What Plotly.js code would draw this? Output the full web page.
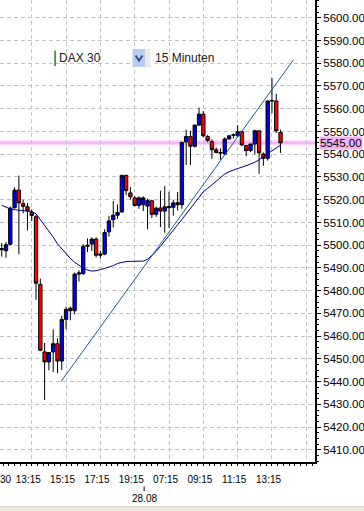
<!DOCTYPE html>
<html><head><meta charset="utf-8">
<script src="https://cdn.plot.ly/plotly-3.0.1.min.js"></script>
<style>html,body{margin:0;padding:0;background:#fff;overflow:hidden}#chart{width:364px;height:511px}</style>
</head><body><div id="chart"></div>
<script>
// ---- data (15-minute bars, DAX 30) ----
const barIndex = [0,1,2,3,4,5,6,7,8,9,10,11,12,13,14,15,16,17,18,19,20,21,22,23,24,25,26,27,28,29,30,31,32,33,34,35,36,37,38,39,40,41,42,43,44,45,46,47,48,49,50,51,52,53,54,55,56,57,58,59,60,61,62,63,64,65];
const openP  = [5498,5497.6,5500.4,5516.5,5524.2,5518.3,5516.9,5514.5,5512.5,5482.8,5453.1,5448.7,5453.1,5456.7,5449.1,5467.4,5472.3,5471.2,5487.3,5487.5,5499.5,5500.5,5502.7,5495.6,5496.1,5505.9,5511.2,5513.2,5514.6,5530.7,5523,5520.8,5517.5,5517.8,5517.2,5519.5,5513.6,5516.4,5515,5516.5,5516.7,5518.7,5517.8,5545.5,5547.8,5543.5,5552.8,5557.6,5547.8,5545.5,5542,5540.5,5540.1,5546.7,5548.4,5548.1,5549.9,5543.8,5541.6,5544.5,5550.3,5540.1,5538.2,5563.4,5563.4,5549.6];
const highP  = [5501,5501.4,5517,5525.5,5530.6,5520,5518.6,5515.7,5513.5,5485.3,5457,5453,5463,5459,5469,5473,5473,5488,5489,5500.5,5503,5503.5,5503.5,5497.5,5507,5512.9,5519.5,5518,5531,5531,5525.5,5521.7,5521.5,5521.5,5520.5,5520,5517,5524,5526,5523.5,5520,5523.4,5545.5,5550.8,5550.3,5553,5560.5,5559,5548.5,5546.6,5543,5542.6,5547.4,5548.5,5549.2,5552.8,5550.3,5544.1,5544.5,5550.8,5550.3,5540.8,5563.6,5573.5,5566.5,5550.8];
const lowP   = [5495,5494.5,5500,5516,5496,5514,5506.5,5510.6,5476,5453.5,5432,5445,5444.2,5443.8,5445.2,5463,5467,5469.6,5484,5487,5497,5497.5,5494.6,5494.2,5495.6,5503.8,5507.8,5511.5,5514.4,5522,5520,5517,5516,5515,5507,5512,5512.5,5508,5505.5,5507.5,5513,5515.3,5516,5535.3,5535.3,5543,5552.5,5547.4,5545.3,5538,5540.4,5537.6,5539.7,5546.5,5546.9,5547.7,5543.5,5539.1,5540.9,5540,5531.4,5535,5537.2,5558,5549.3,5540.6];
const closeP = [5498.5,5500.2,5516.3,5524.2,5518.6,5517.1,5515.1,5513.1,5483.3,5453.8,5448.7,5452.8,5456.7,5449.1,5467.4,5471.8,5471.2,5487.3,5487.8,5499.5,5500,5502.7,5495.6,5496.1,5505.6,5510.7,5513.2,5514.4,5530.7,5524,5521.3,5517.5,5520.8,5520.8,5519.6,5513.6,5516.3,5515,5516.9,5517,5518.6,5517.8,5545.2,5547.8,5543.5,5552.8,5557.6,5548.1,5546,5542,5540.8,5540.7,5546.7,5548.1,5548.5,5549.9,5544.1,5541.6,5544.5,5550.3,5540.6,5538.2,5563.4,5563.6,5550.3,5545];
const maValues = [5517.6,5516.8,5515.9,5515.6,5515.4,5515.2,5515.0,5514.8,5513.8,5511.3,5509.0,5506.5,5503.6,5500.6,5498.5,5496.0,5494.2,5492.5,5491.2,5490.0,5489.1,5488.6,5488.8,5489.2,5489.8,5490.4,5491.0,5492.0,5492.5,5492.8,5492.9,5492.9,5492.9,5493.0,5493.8,5495.5,5497.3,5499.5,5502.0,5504.5,5507.0,5509.0,5511.3,5513.7,5516.2,5518.6,5521.0,5523.5,5525.0,5526.6,5528.1,5529.7,5531.3,5532.3,5533.1,5533.7,5534.3,5534.9,5535.7,5536.5,5537.5,5539.0,5540.2,5541.4,5542.6,5544.0];
const trendX = [13.8, 68];
const trendY = [5440, 5581.5];
const currentPrice = 5545.00;
const timeLabelPos  = [6.2, 14.2, 22.2, 30.2, 38.2, 46.2, 54.2, 62.2];
const timeLabelText = ["13:15","15:15","17:15","19:15","07:15","09:15","11:15","13:15"];
const dayBreakPos = 33.2;
const dayBreakText = "28.08";
const symbolText = "DAX 30";
const periodText = "15 Minuten";

// ---- geometry helpers (pixel -> paper) ----
const PW = 315, PH = 462;
const px = v => v / PW;
const py = v => (PH - v) / PH;
const FONT = "Liberation Sans, Arial, sans-serif";

const candles = {
  type: 'candlestick', x: barIndex, open: openP, high: highP, low: lowP, close: closeP,
  increasing: {line: {color: '#000', width: 1}, fillcolor: '#0000ff'},
  decreasing: {line: {color: '#000', width: 1}, fillcolor: '#ff0000'},
  whiskerwidth: 0, hoverinfo: 'skip'
};
const ma = {type: 'scatter', mode: 'lines', x: barIndex, y: maValues,
  line: {color: '#000080', width: 1}, hoverinfo: 'skip'};
const trend = {type: 'scatter', mode: 'lines', x: trendX, y: trendY, xaxis: 'x2', yaxis: 'y',
  line: {color: '#1f5a96', width: 1}, hoverinfo: 'skip'};

const xr = [-0.4, 73.03];
const gridCol = '#c4c4c4';
const layout = {
  width: 364, height: 511,
  margin: {l: 0, r: 49, t: 0, b: 49, pad: 0},
  paper_bgcolor: '#ffffff', plot_bgcolor: '#ffffff',
  showlegend: false, hovermode: false,
  boxgap: 0.12, boxgroupgap: 0.12,
  font: {family: FONT, color: '#000'},
  xaxis: {
    range: xr, tickmode: 'array', tickvals: timeLabelPos, ticktext: timeLabelText,
    showgrid: false, zeroline: false, showline: true, linecolor: '#000', linewidth: 2,
    ticks: 'outside', ticklen: 7, tickcolor: 'rgba(0,0,0,0)',
    tickfont: {family: FONT, size: 10, color: '#000'},
    rangeslider: {visible: false}, fixedrange: true
  },
  xaxis2: {
    range: xr, overlaying: 'x', anchor: 'y', side: 'bottom',
    tickmode: 'linear', tick0: 7, dtick: 8, showticklabels: false,
    showgrid: true, gridcolor: gridCol, griddash: '4px,3px', gridwidth: 1,
    ticks: 'outside', ticklen: 3, tickcolor: '#000',
    minor: {tick0: 7, dtick: 8/6, ticks: 'outside', ticklen: 3, tickcolor: '#000', showgrid: false},
    zeroline: false, showline: false, fixedrange: true
  },
  yaxis: {
    side: 'right', range: [5404.7, 5607.8], tickmode: 'linear', tick0: 5400, dtick: 10,
    tickformat: '.2f', ticks: 'outside', ticklen: 4, tickcolor: '#000',
    showline: true, linecolor: '#000', linewidth: 2,
    showgrid: true, gridcolor: gridCol, griddash: '4px,3px', gridwidth: 1, zeroline: false,
    tickfont: {family: FONT, size: 11.5, color: '#000'},
    minor: {dtick: 2.5, ticks: 'outside', ticklen: 2, tickcolor: '#000', showgrid: false},
    fixedrange: true
  },
  shapes: [
    {type: 'line', xref: 'paper', x0: 0, x1: 1, yref: 'y', y0: currentPrice, y1: currentPrice,
      line: {color: 'rgba(245,175,245,0.55)', width: 5}, layer: 'below'},
    {type: 'line', xref: 'paper', x0: 0, x1: 1, yref: 'y', y0: currentPrice, y1: currentPrice,
      line: {color: '#e79be7', width: 1}, layer: 'below'},
    // legend decorations
    {type: 'rect', xref: 'paper', yref: 'paper', x0: px(54.3), x1: px(55.9), y0: py(66), y1: py(50.5),
      fillcolor: '#2c8c2c', line: {width: 0}},
    {type: 'rect', xref: 'paper', yref: 'paper', x0: px(132.5), x1: px(145.5), y0: py(67), y1: py(49),
      fillcolor: '#b7cdf1', line: {width: 0}},
    {type: 'rect', xref: 'paper', yref: 'paper', x0: px(145.5), x1: px(150.5), y0: py(67), y1: py(49),
      fillcolor: '#ecebe4', line: {width: 0}},
    {type: 'path', xref: 'paper', yref: 'paper',
      path: `M ${px(135.5)} ${py(55.5)} L ${px(139)} ${py(60.5)} L ${px(142.5)} ${py(55.5)}`,
      line: {color: '#2b4f86', width: 2}},
    // day separator tick
    {type: 'line', xref: 'x', yref: 'paper', x0: dayBreakPos, x1: dayBreakPos, y0: py(486.5), y1: py(491),
      line: {color: '#000', width: 1}},
    // window bottom band
    {type: 'rect', xref: 'paper', yref: 'paper', x0: 0, x1: px(364), y0: py(520), y1: py(506.5),
      fillcolor: '#ebe9df', line: {width: 0}},
    {type: 'line', xref: 'paper', yref: 'paper', x0: 0, x1: px(364), y0: py(506.5), y1: py(506.5),
      line: {color: '#d6d3c8', width: 1}}
  ],
  annotations: [
    {xref: 'paper', yref: 'paper', x: px(57), y: py(58), xanchor: 'left', yanchor: 'middle',
      text: symbolText, showarrow: false, font: {family: FONT, size: 12, color: '#202020'}},
    {xref: 'paper', yref: 'paper', x: px(152.5), y: py(58), xanchor: 'left', yanchor: 'middle',
      text: periodText, showarrow: false, font: {family: FONT, size: 12, color: '#202020'}},
    {xref: 'paper', yref: 'y', x: 1, y: currentPrice, xanchor: 'left', yanchor: 'middle', xshift: 4,
      text: currentPrice.toFixed(2), showarrow: false, bgcolor: '#f4b2f4', borderpad: 0,
      font: {family: FONT, size: 11.5, color: '#000'}},
    {xref: 'paper', yref: 'paper', x: 0, y: py(480), xanchor: 'left', yanchor: 'middle', xshift: -2,
      text: '30', showarrow: false, font: {family: FONT, size: 10, color: '#000'}},
    {xref: 'x', yref: 'paper', x: dayBreakPos, y: py(498), xanchor: 'center', yanchor: 'middle',
      text: dayBreakText, showarrow: false, font: {family: FONT, size: 10, color: '#000'}}
  ]
};

Plotly.newPlot('chart', [candles, ma, trend], layout, {staticPlot: true, displayModeBar: false});
</script>
</body></html>
